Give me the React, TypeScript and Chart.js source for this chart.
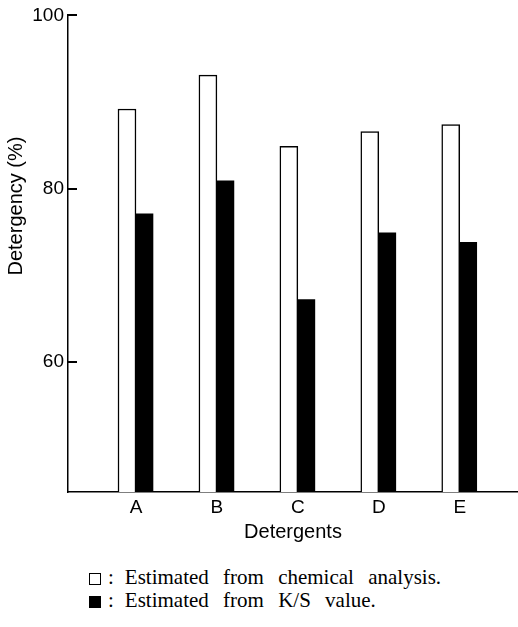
import React, { useEffect, useRef } from "react";
import { Chart, registerables } from "chart.js";

Chart.register(...registerables);

const categories = ["A", "B", "C", "D", "E"];
const chemicalAnalysis = [89.2, 93.1, 84.9, 86.6, 87.4];
const ksValue = [77.1, 80.9, 67.2, 74.9, 73.8];
const yTicks = [60, 80, 100];
const yTitle = "Detergency (%)";
const xTitle = "Detergents";
const legendLabels = [
  "Estimated from chemical analysis.",
  "Estimated from K/S value.",
];

const SANS = "'Liberation Sans', Arial, sans-serif";
const SERIF = "'Liberation Serif', 'Times New Roman', serif";

const decorPlugin = {
  id: "decor",
  afterDraw(chart: any) {
    const ctx = chart.ctx;
    const area = chart.chartArea;
    const y = chart.scales.y;
    ctx.save();
    ctx.strokeStyle = "#000";
    ctx.lineWidth = 2;
    yTicks.forEach((v) => {
      const py = Math.round(y.getPixelForValue(v));
      ctx.beginPath();
      ctx.moveTo(area.left - 1, py);
      ctx.lineTo(area.left + 9, py);
      ctx.stroke();
    });
    ctx.fillStyle = "#000";
    ctx.font = `20px ${SANS}`;
    ctx.textAlign = "center";
    ctx.textBaseline = "middle";
    ctx.translate(16, area.top + area.height * 0.4);
    ctx.rotate(-Math.PI / 2);
    ctx.fillText(yTitle, 0, 0);
    ctx.restore();
  },
};

export default function App() {
  const ref = useRef<HTMLCanvasElement | null>(null);

  useEffect(() => {
    if (!ref.current) return;
    const chart = new Chart(ref.current, {
      type: "bar",
      data: {
        datasets: [
          {
            label: legendLabels[0],
            data: categories.map((_, i) => ({ x: i + 1, y: chemicalAnalysis[i] })),
            backgroundColor: "#ffffff",
            borderColor: "#000000",
            borderWidth: 1.5,
            barThickness: 18,
          },
          {
            label: legendLabels[1],
            data: categories.map((_, i) => ({ x: i + 1, y: ksValue[i] })),
            backgroundColor: "#000000",
            borderColor: "#000000",
            borderWidth: 0,
            barThickness: 17,
          },
        ],
      },
      options: {
        animation: false,
        responsive: false,
        maintainAspectRatio: false,
        layout: { padding: { left: 0, right: 0, top: 15, bottom: 0 } },
        plugins: {
          legend: { display: false },
          tooltip: { enabled: false },
        },
        scales: {
          x: {
            type: "linear",
            offset: false,
            min: 0.16,
            max: 5.72,
            grid: { display: false, drawTicks: false, offset: false },
            border: { display: true, color: "#000", width: 1.5 },
            ticks: {
              stepSize: 1,
              includeBounds: false,
              padding: 4,
              color: "#000",
              font: { family: SANS, size: 19 },
              callback: (v: any) => {
                const i = Math.round(Number(v)) - 1;
                return Number.isInteger(Number(v)) && categories[i] ? categories[i] : "";
              },
            },
            title: {
              display: true,
              text: xTitle,
              color: "#000",
              font: { family: SANS, size: 20 },
              padding: { top: 2, bottom: 6 },
            },
            afterFit: (scale: any) => {
              scale.height = 58;
            },
          },
          y: {
            min: 45,
            max: 100,
            grid: { display: false, drawTicks: false },
            border: { display: true, color: "#000", width: 1.5 },
            ticks: {
              padding: 4,
              color: "#000",
              font: { family: SANS, size: 19 },
            },
            afterBuildTicks: (scale: any) => {
              scale.ticks = yTicks.map((v) => ({ value: v }));
            },
            afterFit: (scale: any) => {
              scale.width = 68;
            },
          },
        },
      },
      plugins: [decorPlugin],
    } as any);
    return () => chart.destroy();
  }, []);

  const box = (filled: boolean): React.CSSProperties => ({
    display: "inline-block",
    width: 12,
    height: 12,
    boxSizing: "border-box",
    border: "1px solid #000",
    background: filled ? "#000" : "#fff",
    verticalAlign: "-1px",
  });

  const lineStyle = (top: number): React.CSSProperties => ({
    position: "absolute",
    left: 89,
    top,
    fontFamily: SERIF,
    fontSize: 21,
    lineHeight: "23px",
    color: "#000",
    whiteSpace: "nowrap",
  });

  const renderLine = (filled: boolean, text: string, top: number) => (
    <div style={lineStyle(top)}>
      <span style={box(filled)} />
      <span style={{ marginLeft: 7 }}>:</span>
      <span style={{ marginLeft: 11, wordSpacing: 9 }}>{text}</span>
    </div>
  );

  return (
    <div style={{ position: "absolute", left: 0, top: 0, width: 518, height: 627, background: "#fff" }}>
      <canvas ref={ref} width={518} height={550} style={{ position: "absolute", left: 0, top: 0, width: 518, height: 550 }} />
      {renderLine(false, legendLabels[0], 566)}
      {renderLine(true, legendLabels[1], 589)}
    </div>
  );
}
